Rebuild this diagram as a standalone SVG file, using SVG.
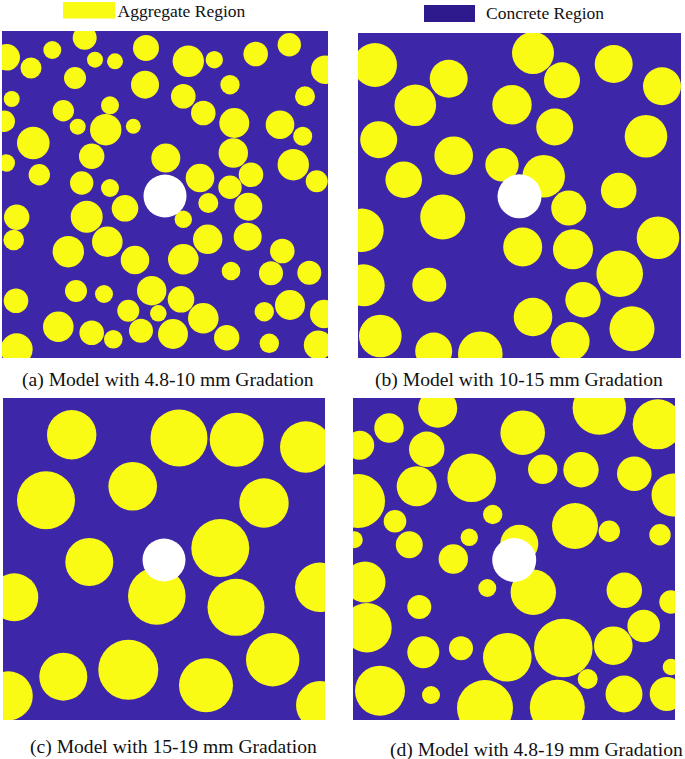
<svg xmlns="http://www.w3.org/2000/svg" width="685" height="759" viewBox="0 0 685 759">
<style>
.bg{fill:#3E26A8}
.ag circle{fill:#F9FB15}
.hole{fill:#FFFFFF}
.t{font-family:"Liberation Serif","Times New Roman",serif;fill:#111}
.leg{font-size:17.5px}
.cap{font-size:19.6px}
</style>
<defs>
<clipPath id="ca"><rect x="2" y="31" width="326" height="327"/></clipPath>
<clipPath id="cb"><rect x="358" y="33" width="323" height="325"/></clipPath>
<clipPath id="cc"><rect x="3" y="398" width="322" height="322"/></clipPath>
<clipPath id="cd"><rect x="353" y="398" width="322" height="322"/></clipPath>
</defs>
<rect width="685" height="759" fill="#FFFFFF"/>

<g id="legend">
<rect x="63" y="2" width="52" height="16.5" fill="#F9FB15"/>
<text class="t leg" x="117.5" y="16.7">Aggregate Region</text>
<rect x="424" y="5" width="51" height="17" fill="#2E1A8C"/>
<text class="t leg" x="486" y="19">Concrete Region</text>
</g>

<g id="panel-a">
<g clip-path="url(#ca)">
<rect class="bg" x="2" y="31" width="326" height="327"/>
<g class="ag">
<circle cx="84.7" cy="37.7" r="12"/><circle cx="52.3" cy="50" r="9"/><circle cx="6.7" cy="57.3" r="13.3"/>
<circle cx="31" cy="68" r="10.5"/><circle cx="95" cy="59.7" r="8"/><circle cx="115" cy="61.3" r="8"/>
<circle cx="146" cy="48" r="13"/><circle cx="75" cy="78" r="11"/><circle cx="145" cy="84.7" r="14"/>
<circle cx="11.7" cy="99" r="8"/><circle cx="110" cy="105.3" r="9"/><circle cx="63.3" cy="110.7" r="10.7"/>
<circle cx="4.3" cy="121.3" r="10.7"/><circle cx="77.7" cy="126.7" r="8"/><circle cx="105.7" cy="129.7" r="15.7"/>
<circle cx="133.3" cy="126.3" r="7.5"/><circle cx="33.3" cy="143" r="16.3"/><circle cx="6.3" cy="163" r="8.7"/>
<circle cx="91.7" cy="156.3" r="12.7"/><circle cx="165.8" cy="158" r="14.5"/><circle cx="39.3" cy="174.7" r="10.7"/>
<circle cx="81.7" cy="183" r="11.7"/><circle cx="110" cy="188" r="9"/><circle cx="188.3" cy="61.3" r="15.7"/>
<circle cx="214.3" cy="59.7" r="8.7"/><circle cx="255.7" cy="54" r="12.3"/><circle cx="289.3" cy="44.7" r="11.7"/>
<circle cx="325.3" cy="69.7" r="14.3"/><circle cx="230" cy="84.7" r="9.7"/><circle cx="183.3" cy="96.3" r="12.3"/>
<circle cx="305" cy="96.3" r="10"/><circle cx="203.3" cy="113" r="12.3"/><circle cx="234.3" cy="123" r="15"/>
<circle cx="280" cy="124.7" r="14.3"/><circle cx="302.7" cy="136.3" r="9.5"/><circle cx="233.3" cy="153" r="14.7"/>
<circle cx="293.3" cy="164.7" r="15.7"/><circle cx="200" cy="178" r="14.3"/><circle cx="251" cy="174.7" r="12.3"/>
<circle cx="316.7" cy="181.3" r="11"/><circle cx="230" cy="187.3" r="11.7"/><circle cx="16.7" cy="217.3" r="12.7"/>
<circle cx="13.7" cy="240" r="10.3"/><circle cx="86.7" cy="216.7" r="16"/><circle cx="125" cy="208.3" r="13.3"/>
<circle cx="68.3" cy="251.7" r="15.7"/><circle cx="107.3" cy="241.7" r="15.3"/><circle cx="135" cy="260" r="14.3"/>
<circle cx="16" cy="300.7" r="12.3"/><circle cx="76" cy="291" r="11"/><circle cx="104" cy="294" r="9"/>
<circle cx="151.7" cy="290.7" r="14.7"/><circle cx="128.3" cy="310.7" r="11"/><circle cx="158.3" cy="313.3" r="8.3"/>
<circle cx="58.3" cy="326.7" r="15.3"/><circle cx="91.7" cy="332.7" r="12.3"/><circle cx="113.3" cy="339.3" r="9.3"/>
<circle cx="141" cy="330.7" r="12"/><circle cx="173" cy="334" r="15"/><circle cx="16.7" cy="349.3" r="16"/>
<circle cx="208.3" cy="203" r="10"/><circle cx="248.3" cy="206.7" r="14"/><circle cx="183.3" cy="219.3" r="8.7"/>
<circle cx="207.7" cy="239.3" r="14.7"/><circle cx="247.7" cy="236.7" r="14"/><circle cx="282.3" cy="251" r="12.3"/>
<circle cx="183.3" cy="259.3" r="15.3"/><circle cx="231" cy="271" r="9.3"/><circle cx="271" cy="273.3" r="12"/>
<circle cx="309.3" cy="272.7" r="12"/><circle cx="181" cy="299.3" r="13.3"/><circle cx="203.3" cy="318.3" r="15.3"/>
<circle cx="290" cy="305" r="15"/><circle cx="264.3" cy="311.7" r="9.7"/><circle cx="324.3" cy="314" r="14.3"/>
<circle cx="226.7" cy="337.7" r="12.7"/><circle cx="269.3" cy="343.3" r="9.7"/><circle cx="318.3" cy="345" r="14.5"/>
</g>
<circle class="hole" cx="165" cy="196" r="21.5"/>
</g>
<text class="t cap" x="22" y="386">(a) Model with 4.8-10 mm Gradation</text>
</g>

<g id="panel-b">
<g clip-path="url(#cb)">
<rect class="bg" x="358" y="33" width="323" height="325"/>
<g class="ag">
<circle cx="375" cy="65" r="22"/><circle cx="448.7" cy="78.7" r="19"/><circle cx="415.3" cy="105.3" r="20.8"/>
<circle cx="533" cy="53" r="21"/><circle cx="562" cy="80.3" r="18"/><circle cx="613.7" cy="64" r="19"/>
<circle cx="662" cy="86.3" r="19"/><circle cx="512" cy="104.7" r="19.7"/><circle cx="554.7" cy="127" r="18.5"/>
<circle cx="646" cy="136.3" r="21.3"/><circle cx="378.7" cy="139.7" r="18.5"/><circle cx="453.7" cy="155.7" r="19.3"/>
<circle cx="502" cy="164.7" r="16.7"/><circle cx="543.7" cy="176.3" r="21.3"/><circle cx="403.7" cy="179.7" r="18.3"/>
<circle cx="618.7" cy="190.5" r="17.8"/><circle cx="442.7" cy="217" r="22.5"/><circle cx="568.7" cy="208" r="17.5"/>
<circle cx="362" cy="230.3" r="21.7"/><circle cx="522.7" cy="247" r="19.5"/><circle cx="573" cy="249.3" r="20"/>
<circle cx="658" cy="237.7" r="21.3"/><circle cx="363.7" cy="285.3" r="21"/><circle cx="429.3" cy="284.7" r="17"/>
<circle cx="619.7" cy="273.7" r="23.3"/><circle cx="583" cy="299.7" r="17.7"/><circle cx="533" cy="317" r="19.3"/>
<circle cx="632" cy="328.7" r="22.5"/><circle cx="380.3" cy="336" r="21.3"/><circle cx="433.7" cy="351" r="18.5"/>
<circle cx="480.3" cy="353.7" r="22.3"/><circle cx="570.3" cy="341.3" r="19.3"/>
</g>
<circle class="hole" cx="519.5" cy="196.3" r="22"/>
</g>
<text class="t cap" x="375" y="386">(b) Model with 10-15 mm Gradation</text>
</g>

<g id="panel-c">
<g clip-path="url(#cc)">
<rect class="bg" x="3" y="398" width="322" height="322"/>
<g class="ag">
<circle cx="71.7" cy="434.7" r="24.7"/><circle cx="179" cy="438" r="28.5"/><circle cx="236.7" cy="439.7" r="27"/>
<circle cx="305.7" cy="447" r="25.7"/><circle cx="46" cy="500.3" r="29"/><circle cx="132.7" cy="486.3" r="24.3"/>
<circle cx="264" cy="503" r="24.7"/><circle cx="89.3" cy="562" r="24"/><circle cx="220.3" cy="548" r="29"/>
<circle cx="156.8" cy="596" r="28.8"/><circle cx="14.3" cy="597.3" r="24"/><circle cx="236" cy="607.3" r="28.5"/>
<circle cx="319.7" cy="587.3" r="24.7"/><circle cx="63.3" cy="676.7" r="24"/><circle cx="128.3" cy="669.7" r="30"/>
<circle cx="206" cy="685.3" r="27"/><circle cx="272.7" cy="659.7" r="26.7"/><circle cx="8.3" cy="695.8" r="24.5"/>
<circle cx="320" cy="705" r="24"/>
</g>
<circle class="hole" cx="164" cy="560" r="21.5"/>
</g>
<text class="t cap" x="30" y="753">(c) Model with 15-19 mm Gradation</text>
</g>

<g id="panel-d">
<g clip-path="url(#cd)">
<rect class="bg" x="353" y="398" width="322" height="322"/>
<g class="ag">
<circle cx="437.7" cy="408.3" r="19.5"/><circle cx="389" cy="428" r="14.7"/><circle cx="359.7" cy="445.3" r="14.5"/>
<circle cx="426.7" cy="449.3" r="17.7"/><circle cx="522.7" cy="432.7" r="22.3"/><circle cx="599.3" cy="408" r="26.7"/>
<circle cx="657.7" cy="424.3" r="25"/><circle cx="471.7" cy="477.7" r="24.3"/><circle cx="416.7" cy="486.3" r="20"/>
<circle cx="358" cy="501" r="27"/><circle cx="542.7" cy="469.3" r="14.7"/><circle cx="581" cy="469.7" r="17.7"/>
<circle cx="634.3" cy="473.7" r="17.3"/><circle cx="673" cy="495" r="21.5"/><circle cx="492.7" cy="514.5" r="9.7"/>
<circle cx="575" cy="526" r="23"/><circle cx="395" cy="521.3" r="11.3"/><circle cx="354.3" cy="539.7" r="8.5"/>
<circle cx="409.3" cy="544.7" r="13.5"/><circle cx="469.3" cy="537.3" r="8.7"/><circle cx="453.3" cy="559" r="14.7"/>
<circle cx="519.3" cy="543.7" r="19"/><circle cx="609.3" cy="531.3" r="10.7"/><circle cx="660" cy="534.7" r="10.7"/>
<circle cx="365" cy="582" r="20.5"/><circle cx="487.3" cy="588" r="9"/><circle cx="533.3" cy="592.3" r="22.7"/>
<circle cx="624.3" cy="590.3" r="17.7"/><circle cx="671" cy="602" r="11.7"/><circle cx="419.3" cy="607" r="12"/>
<circle cx="367" cy="627.7" r="24.7"/><circle cx="643.7" cy="626" r="16.3"/><circle cx="423.3" cy="652.3" r="16"/>
<circle cx="461" cy="648.3" r="12"/><circle cx="507.3" cy="657.3" r="24.3"/><circle cx="563.3" cy="648" r="29.3"/>
<circle cx="613.3" cy="645.7" r="19.3"/><circle cx="671" cy="667" r="8.3"/><circle cx="380" cy="690.7" r="25"/>
<circle cx="431" cy="695" r="9"/><circle cx="485" cy="708" r="28"/><circle cx="557.3" cy="707.3" r="27.5"/>
<circle cx="587.7" cy="679" r="10"/><circle cx="624" cy="694" r="18.5"/><circle cx="666.7" cy="694" r="17"/>
</g>
<circle class="hole" cx="514.2" cy="560" r="22"/>
</g>
<text class="t cap" x="390" y="755.5">(d) Model with 4.8-19 mm Gradation</text>
</g>
</svg>
